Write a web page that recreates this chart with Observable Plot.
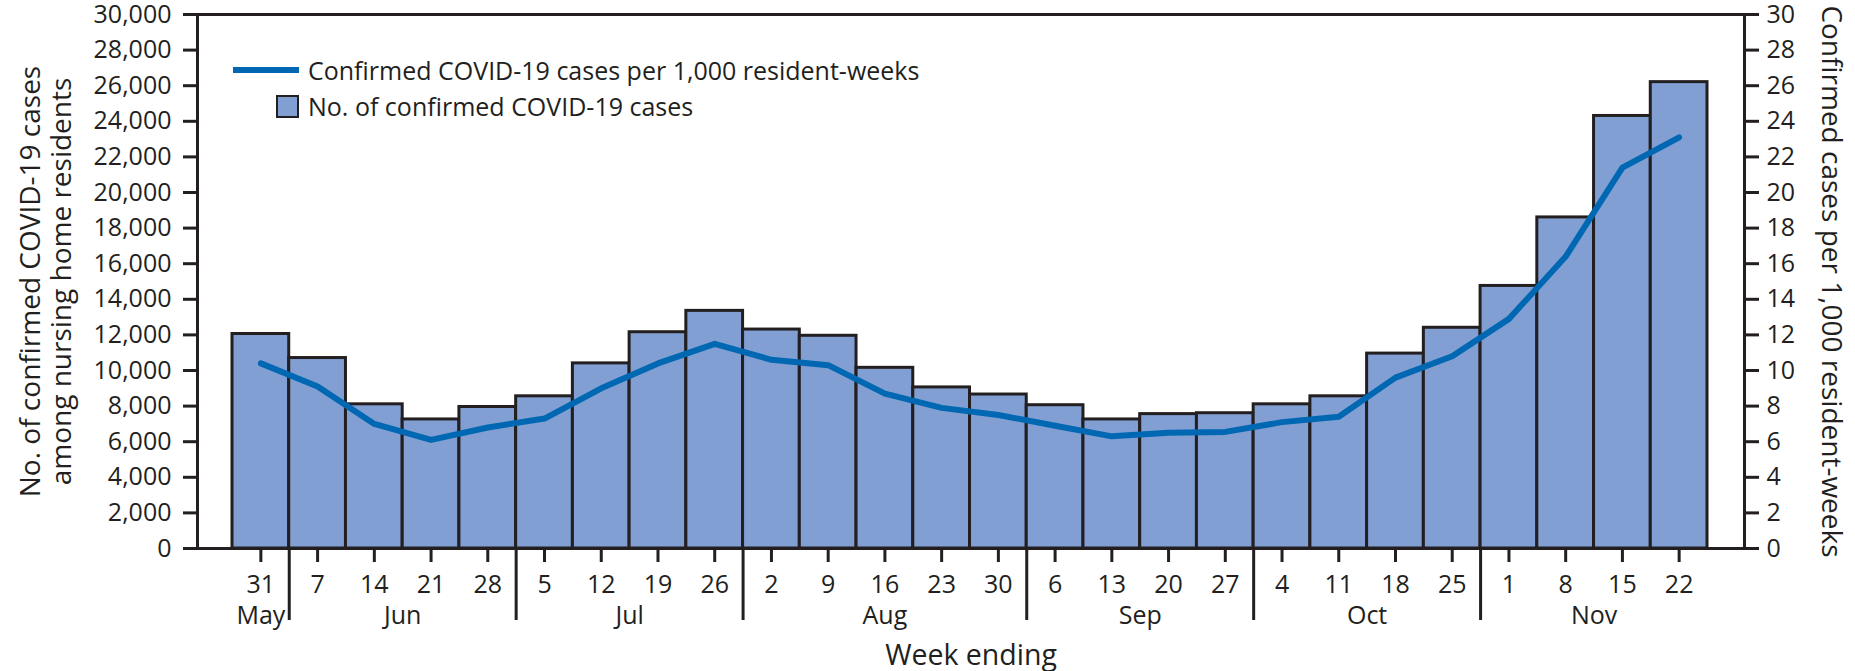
<!DOCTYPE html>
<html>
<head>
<meta charset="utf-8">
<script src="https://cdn.jsdelivr.net/npm/d3@7"></script>
<script src="https://cdn.jsdelivr.net/npm/@observablehq/plot@0.6"></script>
<style>
html, body { margin: 0; padding: 0; background: #fff; }
#wrap { position: relative; width: 1855px; height: 671px; font-family: "Open Sans", sans-serif; color: #231f20; }
.legend { position: absolute; left: 233px; top: 52px; font-size: 25px; }
.row { display: flex; align-items: center; height: 36px; white-space: nowrap; }
.sw-line { width: 66px; height: 6px; background: #0068b2; margin-right: 9px; }
.sw-box { width: 19px; height: 19px; border: 2.5px solid #231f20; background: #819fd3; margin-left: 43px; margin-right: 9px; }
</style>
</head>
<body>
<div id="wrap">
  <div id="chart"></div>
  <div class="legend">
    <div class="row"><span class="sw-line"></span><span id="lg1"></span></div>
    <div class="row"><span class="sw-box"></span><span id="lg2"></span></div>
  </div>
</div>
<script>
// ---- data ----
const days = [31, 7, 14, 21, 28, 5, 12, 19, 26, 2, 9, 16, 23, 30, 6, 13, 20, 27, 4, 11, 18, 25, 1, 8, 15, 22];
const months = ["May", "Jun", "Jun", "Jun", "Jun", "Jul", "Jul", "Jul", "Jul", "Aug", "Aug", "Aug", "Aug", "Aug",
                "Sep", "Sep", "Sep", "Sep", "Oct", "Oct", "Oct", "Oct", "Nov", "Nov", "Nov", "Nov"];
const cases = [12050, 10700, 8100, 7250, 7950, 8550, 10400, 12150, 13350, 12300, 11950, 10150, 9050, 8650,
               8050, 7250, 7550, 7600, 8100, 8550, 10950, 12400, 14750, 18600, 24300, 26200];
const rates = [10.4, 9.1, 7.0, 6.1, 6.8, 7.3, 9.0, 10.4, 11.5, 10.6, 10.3, 8.7, 7.9, 7.5,
               6.9, 6.3, 6.5, 6.55, 7.1, 7.4, 9.6, 10.8, 12.9, 16.4, 21.4, 23.1];
const leftTicks = [0, 2000, 4000, 6000, 8000, 10000, 12000, 14000, 16000, 18000, 20000, 22000, 24000, 26000, 28000, 30000];
const rightTicks = [0, 2, 4, 6, 8, 10, 12, 14, 16, 18, 20, 22, 24, 26, 28, 30];
const legendLabels = ["Confirmed COVID-19 cases per 1,000 resident-weeks", "No. of confirmed COVID-19 cases"];
const leftTitle = ["No. of confirmed COVID-19 cases", "among nursing home residents"];
const rightTitle = "Confirmed cases per 1,000 resident-weeks";
const xTitle = "Week ending";

// ---- derived tables ----
const weeks = days.map((d, i) => ({i, day: d, month: months[i], cases: cases[i], rate: rates[i]}));
const groups = d3.groups(weeks, d => d.month).map(([m, ws]) => ({month: m, start: ws[0].i, end: ws[ws.length - 1].i + 1}));
const monthCenters = groups.map(g => (g.start + g.end) / 2);
const monthByCenter = new Map(groups.map(g => [(g.start + g.end) / 2, g.month]));
const boundaries = groups.slice(1).map(g => g.start);
const ink = "#231f20";

document.getElementById("lg1").textContent = legendLabels[0];
document.getElementById("lg2").textContent = legendLabels[1];

const chart = Plot.plot({
  width: 1855,
  height: 671,
  marginTop: 14,
  marginBottom: 123,
  marginLeft: 197,
  marginRight: 111,
  style: {fontFamily: "Open Sans, sans-serif", fontSize: "25px", color: ink, background: "white", overflow: "visible"},
  x: {domain: [-0.617, 26.652]},
  y: {domain: [0, 30000]},
  marks: [
    Plot.rectY(weeks, {x1: "i", x2: d => d.i + 1, y: "cases", fill: "#819fd3", stroke: ink, strokeWidth: 3}),
    Plot.frame({stroke: ink, strokeWidth: 3}),
    Plot.axisY(leftTicks, {anchor: "left", tickSize: 14, tickPadding: 12, tickFormat: d3.format(","), fontSize: 25, strokeWidth: 3, label: null}),
    Plot.axisY(rightTicks.map(t => t * 1000), {anchor: "right", tickSize: 14, tickPadding: 8, tickFormat: d => String(d / 1000), fontSize: 25, strokeWidth: 3, label: null}),
    Plot.axisX(weeks.map(d => d.i + 0.5), {anchor: "bottom", tickSize: 14, tickPadding: 13, tickFormat: d => String(days[Math.floor(d)]), fontSize: 25, strokeWidth: 3, label: null}),
    Plot.axisX(monthCenters, {anchor: "bottom", tickSize: 0, tickPadding: 58, tickFormat: d => monthByCenter.get(d), fontSize: 25, label: null}),
    Plot.axisX(boundaries, {anchor: "bottom", tickSize: 72, tickFormat: () => "", strokeWidth: 3, label: null}),
    Plot.line(weeks, {x: d => d.i + 0.5, y: d => d.rate * 1000, stroke: "#0068b2", strokeWidth: 6, strokeLinejoin: "round", strokeLinecap: "round"}),
    Plot.text([leftTitle.join("\n")], {text: d => d, frameAnchor: "left", rotate: -90, dx: -152, fontSize: 28, lineHeight: 1.1, textAnchor: "middle", lineAnchor: "middle", fill: ink}),
    Plot.text([rightTitle], {text: d => d, frameAnchor: "right", rotate: 90, dx: 86, fontSize: 28, textAnchor: "middle", lineAnchor: "middle", fill: ink}),
    Plot.text([xTitle], {text: d => d, frameAnchor: "bottom", dy: 107, fontSize: 28.5, textAnchor: "middle", lineAnchor: "middle", fill: ink})
  ]
});
document.getElementById("chart").appendChild(chart);
</script>
</body>
</html>
